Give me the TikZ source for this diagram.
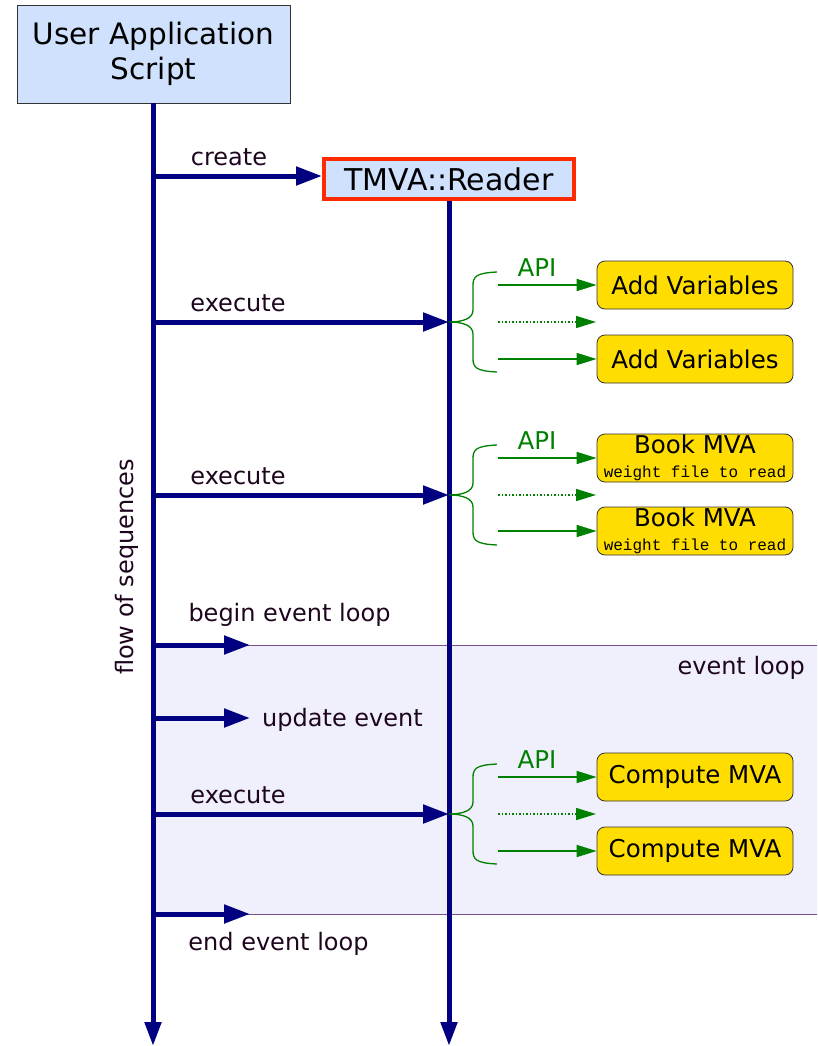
\documentclass[tikz,border=0pt]{standalone}
\usepackage{fontspec}
\setmainfont{DejaVu Sans}
\setmonofont{Liberation Mono}
\usetikzlibrary{arrows.meta}
\definecolor{navyl}{RGB}{0,0,128}
\definecolor{boxblue}{RGB}{207,225,252}
\definecolor{redb}{RGB}{255,42,0}
\definecolor{gold}{RGB}{255,221,0}
\definecolor{apigreen}{RGB}{0,128,0}
\definecolor{loopbg}{RGB}{240,240,252}
\definecolor{loopline}{RGB}{120,80,140}
\definecolor{lbl}{RGB}{30,5,30}
\newcommand{\monotxt}{\ttfamily\fontsize{16}{18}\selectfont}
\begin{document}
\begin{tikzpicture}[x=1pt,y=-1pt,
  lifeline/.style={line width=5pt, draw=navyl, -{Triangle[length=24pt,width=16pt]}},
  msg/.style={line width=5pt, draw=navyl, -{Triangle[length=26pt,width=18pt]}},
  lbltext/.style={text=lbl, font=\fontsize{24}{28}\selectfont, inner sep=0pt},
  bluebox/.style={draw=black!80, line width=0.8pt, fill=boxblue, align=center, inner sep=0pt},
  yellowbox/.style={draw=black!80, line width=0.8pt, fill=gold, rounded corners=8pt, minimum width=196pt, minimum height=48pt, align=center, inner sep=0pt, font=\fontsize{24.5}{28}\selectfont},
  apiarrow/.style={draw=apigreen, line width=1.5pt, -{Triangle[length=20pt,width=12pt]}},
  apidot/.style={apiarrow, dotted},
  bracepath/.style={draw=apigreen, line width=1.3pt},
  apitext/.style={text=apigreen, font=\fontsize{24.5}{28}\selectfont, inner sep=0pt}
]
\useasboundingbox (0,0) rectangle (817,1046);

% event loop region
\fill[loopbg] (153,645) rectangle (817,914);
\draw[loopline, line width=0.8pt] (153,645) -- (817,645);
\draw[loopline, line width=0.8pt] (153,914) -- (817,914);
\node[lbltext, anchor=east] (evl) at (805,668) {event loop};

% actors
\node[bluebox, minimum width=273pt, minimum height=98pt, font=\fontsize{29.5}{35}\selectfont] (uas) at (153.5,54) {User Application\\Script};
\node[bluebox, draw=redb, line width=4pt, minimum width=250pt, minimum height=40pt, font=\fontsize{30}{34}\selectfont] (rdr) at (449,179) {TMVA::Reader};

\coordinate (lend) at (153,1046);
\coordinate (rend) at (449,1046);
\draw[lifeline] (uas.south -| lend) -- (lend);
\draw[lifeline] (rdr.south) -- (rend);

% create
\coordinate (c0) at (153,176);
\draw[msg] (c0) -- (c0 -| rdr.west);
\node[lbltext] (lcreate) at (229,157) {create};

% flow of sequences
\node[lbltext, rotate=90] (flow) at (127,567) {flow of sequences};

% groups
\foreach \c/\na/\nb/\ta/\tb/\idx in {322/285/359/{Add Variables}/{Add Variables}/1,
                         814/777/851/{Compute MVA}/{Compute MVA}/3} {
  \coordinate (ex\idx) at (153,\c);
  \coordinate (tip\idx) at (449,\c);
  \draw[msg] (ex\idx) -- (tip\idx);
  \node[lbltext] at (238,\c-19) {execute};
  \draw[bracepath] (497,\c-50) .. controls (475,\c-49) and (473,\c-45) .. (473,\c-36) -- (473,\c-12) .. controls (473,\c-3) and (462,\c) .. (tip\idx) .. controls (462,\c) and (473,\c+3) .. (473,\c+12) -- (473,\c+36) .. controls (473,\c+45) and (475,\c+49) .. (497,\c+50);
  \node[apitext] at (537,\c-54) {API};
  \node[yellowbox] (ba\idx) at (695,\na) {\ta};
  \node[yellowbox] (bb\idx) at (695,\nb) {\tb};
  \coordinate (sa\idx) at (498,\na);
  \coordinate (sb\idx) at (498,\nb);
  \coordinate (sd\idx) at (498,\c);
  \coordinate (ed\idx) at (596,\c);
  \draw[apiarrow] (sa\idx) -- (ba\idx.west);
  \draw[apiarrow] (sb\idx) -- (bb\idx.west);
  \draw[apidot] (sd\idx) -- (ed\idx);
}

% group 2 (Book MVA)
\coordinate (ex2) at (153,495);
\coordinate (tip2) at (449,495);
\draw[msg] (ex2) -- (tip2);
\node[lbltext] at (238,476) {execute};
\draw[bracepath] (497,445) .. controls (475,446) and (473,450) .. (473,459) -- (473,483) .. controls (473,492) and (462,495) .. (tip2) .. controls (462,495) and (473,498) .. (473,507) -- (473,531) .. controls (473,540) and (475,544) .. (497,545);
\node[apitext] at (537,441) {API};
\node[yellowbox] (ba2) at (695,458) {Book MVA\\[-4pt]{\monotxt weight file to read}};
\node[yellowbox] (bb2) at (695,531) {Book MVA\\[-4pt]{\monotxt weight file to read}};
\coordinate (sa2) at (498,458);
\coordinate (sb2) at (498,531);
\coordinate (sd2) at (498,495);
\coordinate (ed2) at (596,495);
\draw[apiarrow] (sa2) -- (ba2.west);
\draw[apiarrow] (sb2) -- (bb2.west);
\draw[apidot] (sd2) -- (ed2);

% event loop arrows
\coordinate (bl0) at (153,645); \coordinate (bl1) at (250,645);
\draw[msg] (bl0) -- (bl1);
\node[lbltext] (lbegin) at (289.5,615) {begin event loop};
\coordinate (ue0) at (153,718); \coordinate (ue1) at (250,718);
\draw[msg] (ue0) -- (ue1);
\node[lbltext, anchor=west] (lupd) at (262,720) {update event};
\coordinate (el0) at (153,914); \coordinate (el1) at (250,914);
\draw[msg] (el0) -- (el1);
\node[lbltext] (lend2) at (278.5,944) {end event loop};
\end{tikzpicture}
\end{document}
